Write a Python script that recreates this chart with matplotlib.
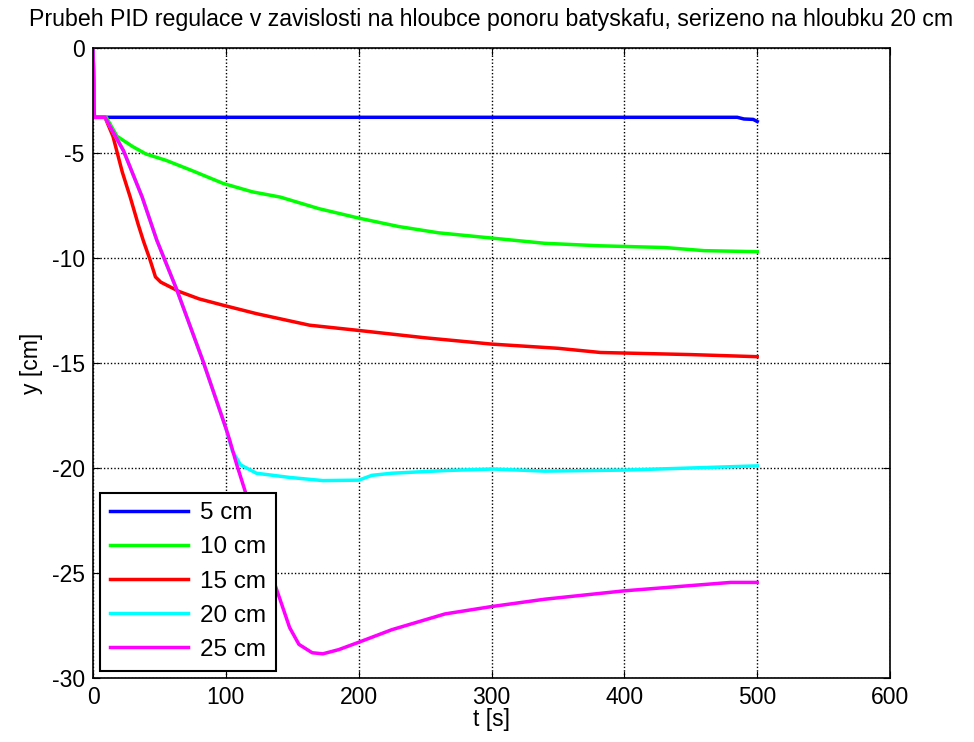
import numpy as np
import matplotlib
matplotlib.use('Agg')
import matplotlib.pyplot as plt

plt.rcParams['font.family'] = ['Liberation Sans', 'DejaVu Sans']
plt.rcParams['axes.unicode_minus'] = False

t_5 = [0, 1, 485, 490, 497, 500]
y_5 = [0, -3.3, -3.3, -3.38, -3.4, -3.5]

t_10 = [0, 1, 10, 18, 30, 40, 55, 75, 98, 120, 141, 170, 200, 230, 260, 300,
        340, 382, 400, 430, 460, 500]
y_10 = [0, -3.3, -3.3, -4.2, -4.7, -5.05, -5.35, -5.85, -6.45, -6.85, -7.1,
        -7.65, -8.1, -8.5, -8.8, -9.05, -9.3, -9.42, -9.45, -9.5, -9.65, -9.7]

t_15 = [0, 1, 9, 15, 22, 28, 34, 38, 43, 47, 51, 65, 80, 98, 123, 163, 200,
        250, 300, 350, 382, 450, 500]
y_15 = [0, -3.3, -3.3, -4.2, -5.9, -7.1, -8.4, -9.2, -10.1, -10.9, -11.15,
        -11.6, -11.95, -12.25, -12.65, -13.2, -13.45, -13.8, -14.1, -14.3,
        -14.5, -14.6, -14.7]

t_20 = [0, 1, 9, 23, 37, 48, 63, 83, 100, 105, 111, 123, 148, 173, 200, 210,
        225, 266, 301, 340, 400, 450, 500]
y_20 = [0, -3.3, -3.3, -4.9, -7.1, -9.15, -11.5, -14.95, -18.1, -19.2, -19.85,
        -20.25, -20.45, -20.6, -20.58, -20.35, -20.25, -20.12, -20.05, -20.15,
        -20.1, -20.0, -19.9]

t_25 = [0, 1, 9, 23, 37, 48, 63, 83, 100, 103, 108, 114.5, 125, 135, 141, 148,
        155, 165, 173, 185, 200, 225, 265, 300, 340, 370, 400, 450, 480, 500]
y_25 = [0, -3.3, -3.3, -4.9, -7.1, -9.15, -11.5, -14.95, -18.1, -18.7, -19.8,
        -21.1, -23.2, -25.2, -26.3, -27.6, -28.4, -28.8, -28.85, -28.65, -28.3,
        -27.7, -26.95, -26.6, -26.25, -26.05, -25.85, -25.6, -25.45, -25.45]

fig = plt.figure(figsize=(9.74, 7.42), dpi=100)
ax = fig.add_axes([0.0955, 0.0863, 0.8183, 0.849])

ax.plot(t_5, y_5, color=(0, 0, 1), lw=2.5, label='5 cm')
ax.plot(t_10, y_10, color=(0, 1, 0), lw=2.5, label='10 cm')
ax.plot(t_15, y_15, color=(1, 0, 0), lw=2.5, label='15 cm')
ax.plot(t_20, y_20, color=(0, 1, 1), lw=2.5, label='20 cm')
ax.plot(t_25, y_25, color=(1, 0, 1), lw=2.5, label='25 cm')

ax.set_xlim(0, 600)
ax.set_ylim(-30, 0)
ax.set_xticks(np.arange(0, 601, 100))
ax.set_yticks(np.arange(-30, 1, 5))
ax.grid(True, color='k', linestyle=(0, (1, 1.5)), linewidth=1.0)
ax.tick_params(direction='in', top=True, right=True, labelsize=16.5, length=5, pad=6)
for s in ax.spines.values():
    s.set_linewidth(1.2)

ax.set_title('Prubeh PID regulace v zavislosti na hloubce ponoru batyskafu, serizeno na hloubku 20 cm',
             fontsize=16.7, pad=16)
ax.set_xlabel('t [s]', fontsize=16.5, labelpad=-1)
ax.set_ylabel('y [cm]', fontsize=16.5, labelpad=6)

leg = ax.legend(loc='lower left', fontsize=17.5, handlelength=3.2, labelspacing=0.5,
                handletextpad=0.5, borderpad=0.4,
                fancybox=False, framealpha=1, edgecolor='k',
                borderaxespad=0.3, bbox_to_anchor=(0.0, 0.0))
leg.get_frame().set_linewidth(1.5)

fig.savefig('out.png', dpi=100)
